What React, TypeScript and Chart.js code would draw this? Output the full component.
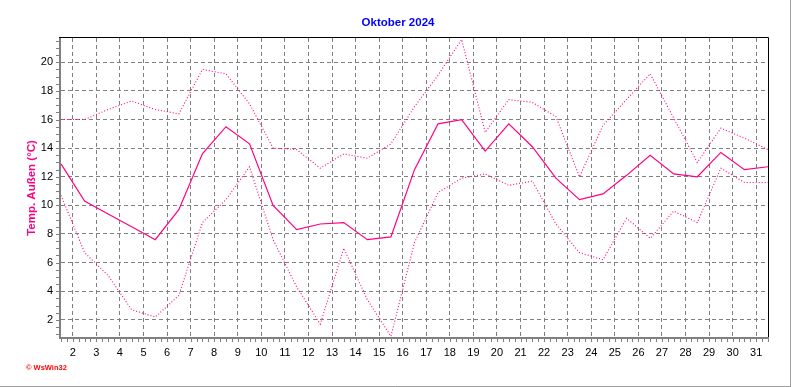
import React, { useEffect, useRef } from 'react';
import { Chart, registerables } from 'chart.js';

Chart.register(...registerables);

const days = [1, 2, 3, 4, 5, 6, 7, 8, 9, 10, 11, 12, 13, 14, 15, 16, 17, 18, 19, 20, 21, 22, 23, 24, 25, 26, 27, 28, 29, 30, 31];
const dayTicks = [2, 3, 4, 5, 6, 7, 8, 9, 10, 11, 12, 13, 14, 15, 16, 17, 18, 19, 20, 21, 22, 23, 24, 25, 26, 27, 28, 29, 30, 31];
const tempTicks = [2, 4, 6, 8, 10, 12, 14, 16, 18, 20];

const maxTemps = [16.0, 16.0, 16.7, 17.3, 16.7, 16.4, 19.5, 19.2, 17.1, 14.0, 13.9, 12.6, 13.6, 13.3, 14.3, 16.9, 19.1, 21.6, 15.1, 17.4, 17.2, 16.2, 12.0, 15.6, 17.4, 19.2, 16.1, 13.0, 15.4, 14.7, 13.9];
const meanTemps = [12.9, 10.3, 9.4, 8.5, 7.6, 9.7, 13.6, 15.5, 14.3, 10.0, 8.3, 8.7, 8.8, 7.6, 7.8, 12.5, 15.7, 16.0, 13.8, 15.7, 14.1, 11.9, 10.4, 10.8, 12.1, 13.5, 12.2, 12.0, 13.7, 12.5, 12.7];
const minTemps = [10.7, 6.7, 5.1, 2.7, 2.2, 3.7, 8.8, 10.4, 12.7, 7.6, 4.3, 1.7, 7.0, 3.4, 0.85, 7.4, 10.9, 11.9, 12.2, 11.4, 11.7, 8.7, 6.7, 6.2, 9.1, 7.7, 9.6, 8.8, 12.6, 11.6, 11.6];

const TITLE = 'Oktober 2024';
const Y_LABEL = 'Temp. Außen (°C)';
const COPYRIGHT = '© WsWin32';

const LINE = '#ff0080';
const GRID = '#808080';

const toPoints = (vals: number[]) => days.map((d, i) => ({ x: d + 0.5, y: vals[i] }));

const decorPlugin = {
  id: 'decor',
  afterDraw(chart: any) {
    const { ctx, chartArea } = chart;
    const { left, right, top, bottom } = chartArea;
    const xs = chart.scales.x;
    const ys = chart.scales.y;
    ctx.save();
    ctx.strokeStyle = GRID;
    ctx.lineWidth = 1;
    ctx.beginPath();
    for (let v = xs.min; v <= xs.max + 1e-6; v += 0.25) {
      const px = Math.round(xs.getPixelForValue(v)) + 0.5;
      ctx.moveTo(px, bottom + 1);
      ctx.lineTo(px, bottom + 5);
    }
    for (let v = 1; v <= ys.max + 1e-6; v += 0.5) {
      if (v < ys.min) continue;
      const py = Math.round(ys.getPixelForValue(v)) + 0.5;
      ctx.moveTo(left - 5, py);
      ctx.lineTo(left - 1, py);
    }
    ctx.stroke();
    ctx.lineWidth = 2;
    ctx.strokeStyle = GRID;
    ctx.beginPath();
    ctx.moveTo(left - 1, top);
    ctx.lineTo(left - 1, bottom + 2);
    ctx.moveTo(left - 2, bottom + 1);
    ctx.lineTo(right + 1, bottom + 1);
    ctx.stroke();
    ctx.lineWidth = 1;
    ctx.strokeStyle = '#000000';
    ctx.beginPath();
    ctx.moveTo(left - 2, Math.round(top) - 0.5);
    ctx.lineTo(Math.round(right) + 0.5, Math.round(top) - 0.5);
    ctx.lineTo(Math.round(right) + 0.5, bottom);
    ctx.stroke();
    ctx.strokeStyle = '#a0a0a0';
    ctx.beginPath();
    ctx.moveTo(0, 386.5);
    ctx.lineTo(790.5, 386.5);
    ctx.moveTo(790.5, 0);
    ctx.lineTo(790.5, 387);
    ctx.stroke();
    ctx.fillStyle = '#0000ff';
    ctx.font = 'bold 11.5px "Liberation Sans", Arial, sans-serif';
    ctx.textAlign = 'center';
    ctx.textBaseline = 'middle';
    ctx.fillText(TITLE, 398, 23);
    ctx.save();
    ctx.translate(32, 188);
    ctx.rotate(-Math.PI / 2);
    ctx.fillStyle = LINE;
    ctx.font = 'bold 11.5px "Liberation Sans", Arial, sans-serif';
    ctx.fillText(Y_LABEL, 0, 0);
    ctx.restore();
    ctx.fillStyle = '#ff0000';
    ctx.font = 'bold 7.5px "Liberation Sans", Arial, sans-serif';
    ctx.textAlign = 'left';
    ctx.fillText(COPYRIGHT, 26, 368);
    ctx.restore();
  },
};

export default function App() {
  const ref = useRef<HTMLCanvasElement | null>(null);
  useEffect(() => {
    document.body.style.margin = '0';
    const canvas = ref.current;
    if (!canvas) return;
    const chart = new Chart(canvas, {
      type: 'line',
      data: {
        datasets: [
          {
            label: 'Max',
            data: toPoints(maxTemps),
            borderColor: LINE,
            borderWidth: 1.1,
            borderDash: [1, 2],
            pointRadius: 0,
            tension: 0,
            fill: false,
          },
          {
            label: 'Mittel',
            data: toPoints(meanTemps),
            borderColor: LINE,
            borderWidth: 1.2,
            pointRadius: 0,
            tension: 0,
            fill: false,
          },
          {
            label: 'Min',
            data: toPoints(minTemps),
            borderColor: LINE,
            borderWidth: 1.1,
            borderDash: [1, 2],
            pointRadius: 0,
            tension: 0,
            fill: false,
          },
        ],
      },
      options: {
        responsive: false,
        animation: false,
        events: [],
        layout: { padding: { left: 0, top: 38, right: 24, bottom: 0 } },
        plugins: { legend: { display: false }, tooltip: { enabled: false }, title: { display: false } },
        scales: {
          x: {
            type: 'linear',
            min: 1.5,
            max: 31.5,
            afterBuildTicks: (scale: any) => {
              scale.ticks = dayTicks.map((v) => ({ value: v }));
            },
            afterFit: (scale: any) => {
              scale.height = 50;
            },
            grid: { color: GRID, lineWidth: 1, drawTicks: false },
            border: { display: false, dash: [4, 3] },
            ticks: {
              padding: 9,
              color: '#000000',
              maxRotation: 0,
              autoSkip: false,
              font: { family: '"Liberation Sans", Arial, sans-serif', size: 11 },
              callback: (v: any) => String(v),
            },
          },
          y: {
            type: 'linear',
            min: 0.8,
            max: 21.7,
            afterBuildTicks: (scale: any) => {
              scale.ticks = tempTicks.map((v) => ({ value: v }));
            },
            afterFit: (scale: any) => {
              scale.width = 61;
            },
            grid: { color: GRID, lineWidth: 1, drawTicks: false },
            border: { display: false, dash: [4, 3] },
            ticks: {
              padding: 8,
              color: '#000000',
              autoSkip: false,
              font: { family: '"Liberation Sans", Arial, sans-serif', size: 11 },
              callback: (v: any) => String(v),
            },
          },
        },
      },
      plugins: [decorPlugin],
    });
    return () => chart.destroy();
  }, []);
  return (
    <div style={{ width: 792, height: 387, background: '#ffffff' }}>
      <canvas ref={ref} width={792} height={387} />
    </div>
  );
}
